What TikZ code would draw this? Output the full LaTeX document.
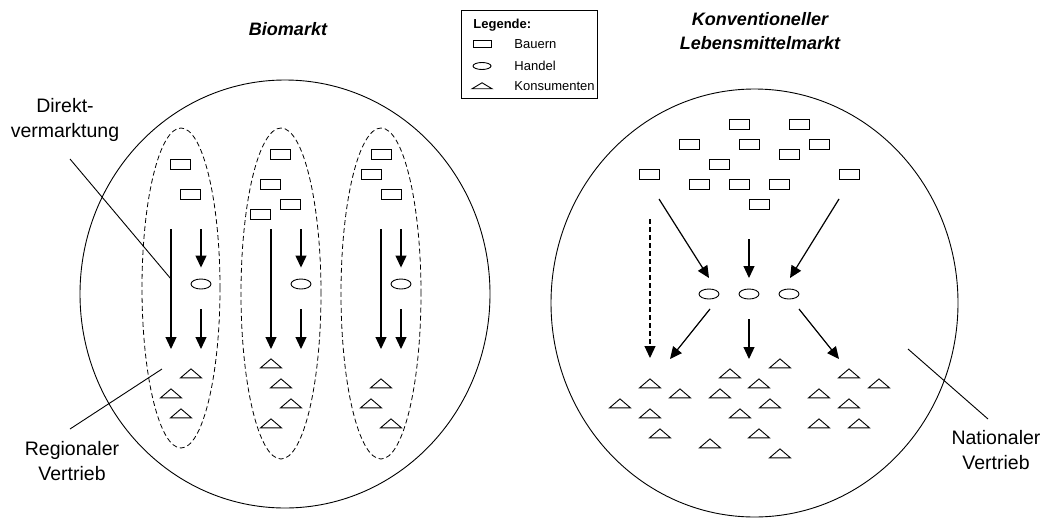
\documentclass[tikz,border=0pt]{standalone}
\usepackage{fontspec}
\setmainfont{Liberation Sans}
\usetikzlibrary{arrows.meta,shapes.geometric}
\tikzset{
  bauer/.style={draw,rectangle,minimum width=20pt,minimum height=10pt,inner sep=0pt},
  handel/.style={draw,ellipse,minimum width=20pt,minimum height=10pt,inner sep=0pt},
  kunde/.style={draw,isosceles triangle,isosceles triangle stretches,shape border rotate=90,
    minimum width=21pt,minimum height=9pt,inner sep=0pt},
  pfeil/.style={-{Triangle[length=12pt,width=11pt]},line width=1.2pt},
  strich/.style={dash pattern=on 5pt off 3pt},
  titel/.style={font=\fontsize{18}{24}\selectfont\bfseries\itshape,align=center},
  beschr/.style={font=\fontsize{19.5}{25}\selectfont,align=center},
  legtext/.style={font=\fontsize{13}{15}\selectfont,anchor=west,inner sep=0pt},
}
\begin{document}
\begin{tikzpicture}[x=1pt,y=-1pt,line width=0.9pt]
  \useasboundingbox (0,0) rectangle (1044,517);
  % Titel und Legende
  \node[titel] (bio) at (288,29) {Biomarkt};
  \node[titel] (konv) at (760,31) {Konventioneller\\Lebensmittelmarkt};
  \node[draw,minimum width=136pt,minimum height=88pt,inner sep=0pt] (leg) at (529,54) {};
  \node[legtext,font=\fontsize{13}{15}\selectfont\bfseries] (legt) at (473,25) {Legende:};
  \node[bauer,minimum width=18pt,minimum height=7pt] (lb) at (482,44) {};
  \node[handel,minimum width=18pt,minimum height=7pt] (lh) at (482,66) {};
  \node[kunde,minimum width=20pt,minimum height=6pt] (lk) at (482,86) {};
  \node[legtext] (tb) at (514,44) {Bauern};
  \node[legtext] (th) at (514,66) {Handel};
  \node[legtext] (tk) at (514,86) {Konsumenten};
  % Biomarkt
  \draw (285,294) ellipse [x radius=205pt,y radius=214pt];
  \draw[strich,line width=0.8pt] (181,288) ellipse [x radius=39pt,y radius=160pt];
  \draw[strich,line width=0.8pt] (281,293.5) ellipse [x radius=40pt,y radius=165.5pt];
  \draw[strich,line width=0.8pt] (381,293.5) ellipse [x radius=40pt,y radius=165.5pt];
  \foreach \x/\y [count=\i] in {180/164,190/194,280/154,270/184,290/204,260/214,381/154,371/174,391/194}
    \node[bauer] (b\i) at (\x,\y) {};
  \foreach \x/\y [count=\i] in {191/374,171/394,181/414,271/364,281/384,291/404,271/424,381/384,371/404,391/424}
    \node[kunde] (k\i) at (\x,\y) {};
  \foreach \l/\k [count=\i] in {171/201,271/301,381/401}{
    \node[handel] (h\i) at (\k,284) {};
    \coordinate (l\i a) at (\l,229); \coordinate (l\i b) at (\l,349);
    \coordinate (s\i a) at (\k,229); \coordinate (s\i b) at (\k,349);
    \draw[pfeil] (l\i a) -- (l\i b);
    \draw[pfeil,shorten >=11pt] (s\i a) -- (h\i.north);
    \draw[pfeil,shorten <=20pt] (h\i.south) -- (s\i b);
  }
  \node[beschr] (dv) at (65,120) {Direkt-\\vermarktung};
  \node[beschr] (rv) at (72,461) {Regionaler\\Vertrieb};
  \coordinate (dv1) at (70,159); \coordinate (dv2) at (171,279);
  \coordinate (rv1) at (70,429); \coordinate (rv2) at (162,369);
  \draw (dv1) -- (dv2);
  \draw (rv1) -- (rv2);
  % Konventioneller Markt
  \draw (754.5,303) ellipse [x radius=203.5pt,y radius=214pt];
  \foreach \x/\y [count=\i] in {739/124,799/124,689/144,749/144,819/144,789/154,719/164,
      649/174,849/174,699/184,739/184,779/184,759/204}
    \node[bauer] (kb\i) at (\x,\y) {};
  \foreach \x [count=\i] in {709,749,789}
    \node[handel] (kh\i) at (\x,294) {};
  \foreach \x/\y [count=\i] in {780/364,730/374,849/374,650/384,759/384,879/384,680/394,720/394,
      819/394,620/404,770/404,849/404,650/414,740/414,819/424,859/424,660/434,759/434,710/444,780/454}
    \node[kunde] (kk\i) at (\x,\y) {};
  \coordinate (e1) at (659,199); \coordinate (e1t) at (709,278);
  \coordinate (e2) at (749,239); \coordinate (e2t) at (749,278);
  \coordinate (e3) at (839,199); \coordinate (e3t) at (790,278);
  \coordinate (a1) at (710,309); \coordinate (a1t) at (670,359);
  \coordinate (a2) at (749,319); \coordinate (a2t) at (749,359);
  \coordinate (a3) at (799,309); \coordinate (a3t) at (839,359);
  \coordinate (d1) at (650,219); \coordinate (d1t) at (650,358);
  \foreach \p in {e1,e2,e3,a1,a2,a3}
    \draw[pfeil] (\p) -- (\p t);
  \draw[pfeil,strich] (d1) -- (d1t);
  \node[beschr] (nv) at (996,450) {Nationaler\\Vertrieb};
  \coordinate (nv1) at (908,349); \coordinate (nv2) at (988,419);
  \draw (nv1) -- (nv2);
\end{tikzpicture}
\end{document}
